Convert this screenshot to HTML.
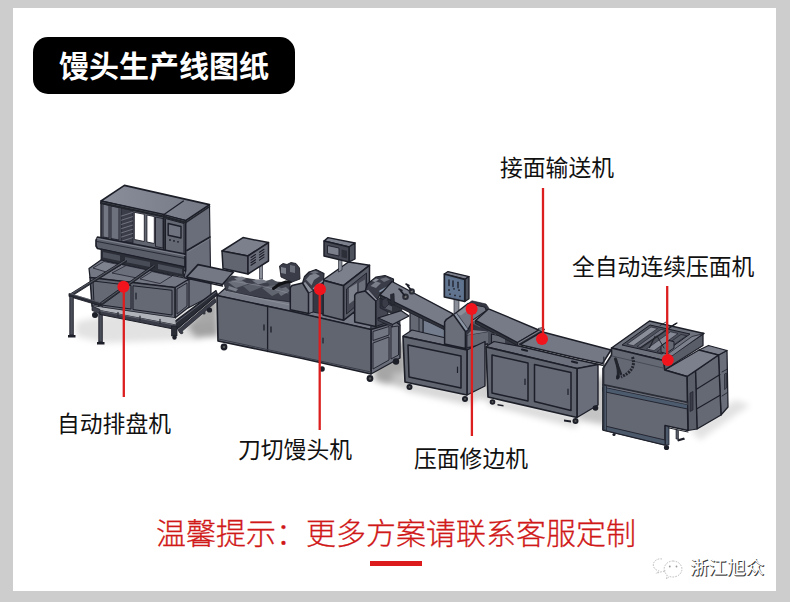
<!DOCTYPE html>
<html lang="zh-CN">
<head>
<meta charset="utf-8">
<title>馒头生产线图纸</title>
<style>
html,body{margin:0;padding:0;}
body{width:790px;height:602px;background:#cdcdcd;position:relative;overflow:hidden;font-family:"Liberation Sans","Noto Sans CJK SC",sans-serif;}
#card{position:absolute;left:13px;top:8px;width:763px;height:583px;background:#fff;}
#title{position:absolute;left:33px;top:37px;width:262px;height:57px;background:#000;border-radius:15px;color:#fff;font-weight:700;font-size:30px;line-height:60px;text-align:center;letter-spacing:0;}
.lbl{position:absolute;color:#111;font-size:22.8px;line-height:30px;white-space:nowrap;font-weight:400;}
#tip{position:absolute;left:156px;top:512px;width:480px;text-align:center;color:#d01818;font-weight:300;-webkit-text-stroke:0.3px #d01818;font-size:30px;line-height:44px;white-space:nowrap;}
#bar{position:absolute;left:370px;top:561px;width:52px;height:5px;background:#dc1c1c;}
#wm{position:absolute;left:690px;top:554.5px;font-size:18.6px;line-height:26px;color:#fff;white-space:nowrap;text-shadow:1px 1px 0.5px #3c3c3c,0.5px 0.5px 0 #666;}
svg{position:absolute;left:0;top:0;}
</style>
</head>
<body>
<div id="card"></div>
<div id="title">馒头生产线图纸</div>
<svg id="draw" width="790" height="602" viewBox="0 0 790 602">
<defs><filter id="bl" x="-20%" y="-20%" width="140%" height="140%"><feGaussianBlur stdDeviation="3"/></filter><linearGradient id="gT" x1="0" y1="0" x2="1" y2="0"><stop offset="0" stop-color="#8a8e9a"/><stop offset="1" stop-color="#757986"/></linearGradient></defs>
<g filter="url(#bl)" fill="#c9c9c9">
<polygon points="76,322 150,306 200,306 200,340 180,340 104,343 76,336" fill="#e2e2e2"/>
<polygon points="186,326 217,298 219,336 196,338" fill="#a2a2a2"/>
<polygon points="200,300 218,296 218,320 196,325" fill="#a8a8a8"/>
<polygon points="374,352 406,340 406,383 385,384 374,380" fill="#a6a6a6"/>
<polygon points="468,360 492,350 492,400 468,398" fill="#c8c8c8"/>
<polygon points="578,385 606,375 606,425 578,420" fill="#c4c4c4"/>
<polygon points="690,430 735,400 750,405 700,440" fill="#e2e2e2"/>
<polygon points="405,380 467,393 485,385 487,394 468,405 405,391" fill="#d6d6d6"/>
<polygon points="488,396 577,416 577,428 488,405" fill="#dadada"/>
<polygon points="392,374 406,372 406,388 394,386" fill="#c4c4c4"/>
</g>
<polygon points="188,278 211,283 211,296 188,308" fill="#6a6e7a" stroke="#1c1e28" stroke-width="1.12" stroke-linejoin="round"/>
<polygon points="175,287 189,279 189,307 175,318" fill="#6a6e7a" stroke="#1c1e28" stroke-width="1.12" stroke-linejoin="round"/>
<polygon points="174,322 216,290.5 217.5,294.5 176.5,329.5" fill="#2a2d36" stroke="#1c1e28" stroke-width="1.12" stroke-linejoin="round"/>
<polygon points="178,330 215,298.5 216,302 180,333" fill="#3a3d47" stroke="#1c1e28" stroke-width="0.75" stroke-linejoin="round"/>
<polyline points="175,323.5 216,292" fill="none" stroke="#7a7e89" stroke-width="0.6" stroke-linecap="round" stroke-linejoin="round"/>
<polygon points="185.6,220.6 209.5,204.6 210.5,270 188,280 184,277 185.6,271" fill="#6a6e7a" stroke="#1c1e28" stroke-width="1.12" stroke-linejoin="round"/>
<polyline points="187,250.5 210,237" fill="none" stroke="#1c1e28" stroke-width="1.6" stroke-linecap="round" stroke-linejoin="round"/>
<polyline points="188,251.8 210,238.6" fill="none" stroke="#8a8e99" stroke-width="0.5" stroke-linecap="round" stroke-linejoin="round"/>
<polygon points="124.4,185.4 209.5,204.6 185.6,220.6 101,201" fill="url(#gT)" stroke="#1c1e28" stroke-width="1.62" stroke-linejoin="round"/>
<polyline points="183.4,201 164,214.6" fill="none" stroke="#1c1e28" stroke-width="1.2" stroke-linecap="round" stroke-linejoin="round"/>
<polygon points="101,201 164,214.6 164,252 101,238" fill="#60656f" stroke="#1c1e28" stroke-width="1.5" stroke-linejoin="round"/>
<polygon points="103,204 109,205.3 109,238 103,237" fill="#737783" stroke="#1c1e28" stroke-width="0.88" stroke-linejoin="round"/>
<polygon points="111,206 119,207.6 119,240 111,238.5" fill="#6d717d" stroke="#1c1e28" stroke-width="0.88" stroke-linejoin="round"/>
<polygon points="121,208 133,210.6 133,243 121,240.5" fill="#3b3e48" stroke="#1c1e28" stroke-width="0.75" stroke-linejoin="round"/>
<polyline points="121.5,216 132.5,212.5" fill="none" stroke="#7d818c" stroke-width="0.8" stroke-linecap="round" stroke-linejoin="round"/>
<polyline points="121.5,220.2 132.5,216.7" fill="none" stroke="#7d818c" stroke-width="0.8" stroke-linecap="round" stroke-linejoin="round"/>
<polyline points="121.5,224.4 132.5,220.9" fill="none" stroke="#7d818c" stroke-width="0.8" stroke-linecap="round" stroke-linejoin="round"/>
<polyline points="121.5,228.6 132.5,225.1" fill="none" stroke="#7d818c" stroke-width="0.8" stroke-linecap="round" stroke-linejoin="round"/>
<polyline points="121.5,232.8 132.5,229.3" fill="none" stroke="#7d818c" stroke-width="0.8" stroke-linecap="round" stroke-linejoin="round"/>
<polyline points="121.5,237 132.5,233.5" fill="none" stroke="#7d818c" stroke-width="0.8" stroke-linecap="round" stroke-linejoin="round"/>
<polyline points="121.5,241.2 132.5,237.7" fill="none" stroke="#7d818c" stroke-width="0.8" stroke-linecap="round" stroke-linejoin="round"/>
<polygon points="134.3,212.3 144.3,214.3 144.3,241.5 134.3,239.5" fill="#ffffff" stroke="#1c1e28" stroke-width="0.88" stroke-linejoin="round"/>
<polygon points="146.9,215 154.3,216.5 154.3,243.5 146.9,242" fill="#ffffff" stroke="#1c1e28" stroke-width="0.88" stroke-linejoin="round"/>
<polygon points="155.5,217 163,218.6 163,248 155.5,246.5" fill="#656975" stroke="#1c1e28" stroke-width="0.88" stroke-linejoin="round"/>
<polygon points="164,214.6 185.6,220.6 185.6,271 164,266" fill="#60656f" stroke="#1c1e28" stroke-width="1.5" stroke-linejoin="round"/>
<polygon points="165.5,218.5 184,223.5 184,255 165.5,251" fill="#646873" stroke="#1c1e28" stroke-width="1" stroke-linejoin="round"/>
<polygon points="168.2,223.5 181,226.5 181,238 168.2,235.3" fill="#6f7380" stroke="#1c1e28" stroke-width="1.38" stroke-linejoin="round"/>
<circle cx="170" cy="240" r="0.9" fill="#1c1e28"/>
<circle cx="174" cy="240.92" r="0.9" fill="#1c1e28"/>
<circle cx="178" cy="241.84" r="0.9" fill="#1c1e28"/>
<polyline points="101,203 164,216.6 185.6,222.6" fill="none" stroke="#23252d" stroke-width="2.2" stroke-linecap="round" stroke-linejoin="round"/>
<polyline points="186,222.4 209.5,206.6" fill="none" stroke="#23252d" stroke-width="1.6" stroke-linecap="round" stroke-linejoin="round"/>
<polygon points="96,240 97.5,237 185,254 185,267 97.5,248.5 96,246" fill="#5a5e69" stroke="#1c1e28" stroke-width="1.62" stroke-linejoin="round"/>
<polyline points="97,238.6 185,255.6" fill="none" stroke="#8a8e99" stroke-width="0.8" stroke-linecap="round" stroke-linejoin="round"/>
<polyline points="97,241.5 185,258.5" fill="none" stroke="#1c1e28" stroke-width="0.8" stroke-linecap="round" stroke-linejoin="round"/>
<polygon points="101,249 184,267 184,277 150,271 101,260" fill="#2b2e37" stroke="#1c1e28" stroke-width="0.75" stroke-linejoin="round"/>
<polygon points="103,252 120,255.5 120,261 103,257.5" fill="#4c505b"/>
<polygon points="125,257 150,262 150,267 125,262" fill="#484c57"/>
<polygon points="158,264 182,269 182,274 158,269" fill="#4c505b"/>
<polygon points="89,268.5 101,260 175,276 189,279 175,287.5 90,277.5" fill="#737783" stroke="#1c1e28" stroke-width="1.25" stroke-linejoin="round"/>
<polygon points="93,268 104,261.5 121,265 108,272.5" fill="#7e828e" stroke="#1c1e28" stroke-width="0.75" stroke-linejoin="round"/>
<polygon points="112,273 126,265.5 150,270.5 137,278" fill="#6b6f7b" stroke="#1c1e28" stroke-width="0.75" stroke-linejoin="round"/>
<polygon points="140,279 152,271.5 172,276 160,283.5" fill="#767a86" stroke="#1c1e28" stroke-width="0.75" stroke-linejoin="round"/>
<polygon points="90,277.5 175,287.5 175,318 92,306" fill="#60656f" stroke="#1c1e28" stroke-width="1.5" stroke-linejoin="round"/>
<polygon points="93,281 131,285.5 131,309 94,304" fill="#646974" stroke="#1c1e28" stroke-width="1" stroke-linejoin="round"/>
<polygon points="133,285.8 172,290.3 172,315 133,309.5" fill="#646974" stroke="#1c1e28" stroke-width="1" stroke-linejoin="round"/>
<polyline points="136,293 136,299" fill="none" stroke="#1c1e28" stroke-width="1.2" stroke-linecap="round" stroke-linejoin="round"/>
<polygon points="177,289 187,283 187,306 177,314" fill="#707480" stroke="#1c1e28" stroke-width="0.88" stroke-linejoin="round"/>
<polygon points="124,260.3 127,261 72.5,295.6 69.5,294.4" fill="#2a2d36" stroke="#1c1e28" stroke-width="0.88" stroke-linejoin="round"/>
<polygon points="152,265.8 155,266.5 102.5,304.6 99.5,303.4" fill="#2a2d36" stroke="#1c1e28" stroke-width="0.88" stroke-linejoin="round"/>
<polyline points="126,260 71,294.5" fill="none" stroke="#6f737e" stroke-width="0.6" stroke-linecap="round" stroke-linejoin="round"/>
<polyline points="154,265.6 101,303.5" fill="none" stroke="#6f737e" stroke-width="0.6" stroke-linecap="round" stroke-linejoin="round"/>
<polygon points="69,293.5 101,303 101,306 69,296.5" fill="#2a2d36" stroke="#1c1e28" stroke-width="0.88" stroke-linejoin="round"/>
<polyline points="70,293.6 100,302.6" fill="none" stroke="#7a7e89" stroke-width="0.6" stroke-linecap="round" stroke-linejoin="round"/>
<polygon points="69.8,296 73.3,297 73.3,335 69.8,335" fill="#4a4e58" stroke="#1c1e28" stroke-width="0.88" stroke-linejoin="round"/>
<polygon points="98.8,305 102.3,306 102.3,342 98.8,342" fill="#4a4e58" stroke="#1c1e28" stroke-width="0.88" stroke-linejoin="round"/>
<polygon points="68,335 75.5,335 75.5,337.5 68,337.5" fill="#1c1e28"/>
<polygon points="97,342 104.5,342 104.5,344.5 97,344.5" fill="#1c1e28"/>
<polygon points="92,306 175,318 176,325.5 100,311" fill="#b0b3b9"/>
<polygon points="92,306 100,309.5 100,313.5 92,310.5" fill="#3f424c" stroke="#1c1e28" stroke-width="0.75" stroke-linejoin="round"/>
<polygon points="100,310.5 176,325 176,329.5 100,314.5" fill="#3a3d47" stroke="#1c1e28" stroke-width="1" stroke-linejoin="round"/>
<polyline points="100,310.8 176,325.3" fill="none" stroke="#8a8e99" stroke-width="0.6" stroke-linecap="round" stroke-linejoin="round"/>
<polyline points="118,312.47 118,316.47" fill="none" stroke="#2a2d36" stroke-width="1.2" stroke-linecap="round" stroke-linejoin="round"/>
<polyline points="140,316.1 140,320.1" fill="none" stroke="#2a2d36" stroke-width="1.2" stroke-linecap="round" stroke-linejoin="round"/>
<polyline points="160,319.4 160,323.4" fill="none" stroke="#2a2d36" stroke-width="1.2" stroke-linecap="round" stroke-linejoin="round"/>
<polygon points="171.5,326 177,326 177,336 171.5,336" fill="#2a2d36" stroke="#1c1e28" stroke-width="0.75" stroke-linejoin="round"/>
<circle cx="174.5" cy="337.5" r="2.2" fill="#1c1e28"/>
<circle cx="181.5" cy="332.5" r="1.8" fill="#3a3d47"/>
<circle cx="95" cy="315" r="3" fill="#1c1e28"/>
<circle cx="209.5" cy="310" r="2.6" fill="#1c1e28"/>
<circle cx="204" cy="313" r="1.6" fill="#33363f"/>
<polygon points="198,264.6 233.5,272 222.5,284.5 186.5,277" fill="#747884" stroke="#1c1e28" stroke-width="1.75" stroke-linejoin="round"/>
<polyline points="187,278.4 222.5,286" fill="none" stroke="#1c1e28" stroke-width="1.4" stroke-linecap="round" stroke-linejoin="round"/>
<polygon points="259.5,262 262.5,262 262.5,279 259.5,279" fill="#8a8e99" stroke="#1c1e28" stroke-width="0.62" stroke-linejoin="round"/>
<polygon points="222,251 243,237.6 268.5,242.6 248,256" fill="#7c808d" stroke="#1c1e28" stroke-width="1.5" stroke-linejoin="round"/>
<polygon points="222,251 248,256 248,274 223,268.5" fill="#60656f" stroke="#1c1e28" stroke-width="1.5" stroke-linejoin="round"/>
<polygon points="248,256 268.5,242.6 268.5,261 248,274" fill="#6a6e7a" stroke="#1c1e28" stroke-width="1.5" stroke-linejoin="round"/>
<polyline points="251,257.5 255.5,254.5" fill="none" stroke="#1c1e28" stroke-width="1.1" stroke-linecap="round" stroke-linejoin="round"/>
<polyline points="259.5,252.3 264,249.3" fill="none" stroke="#1c1e28" stroke-width="1.1" stroke-linecap="round" stroke-linejoin="round"/>
<polyline points="251,260.1 255.5,257.1" fill="none" stroke="#1c1e28" stroke-width="1.1" stroke-linecap="round" stroke-linejoin="round"/>
<polyline points="259.5,254.9 264,251.9" fill="none" stroke="#1c1e28" stroke-width="1.1" stroke-linecap="round" stroke-linejoin="round"/>
<polyline points="251,262.7 255.5,259.7" fill="none" stroke="#1c1e28" stroke-width="1.1" stroke-linecap="round" stroke-linejoin="round"/>
<polyline points="259.5,257.5 264,254.5" fill="none" stroke="#1c1e28" stroke-width="1.1" stroke-linecap="round" stroke-linejoin="round"/>
<polyline points="251,265.3 255.5,262.3" fill="none" stroke="#1c1e28" stroke-width="1.1" stroke-linecap="round" stroke-linejoin="round"/>
<polyline points="259.5,260.1 264,257.1" fill="none" stroke="#1c1e28" stroke-width="1.1" stroke-linecap="round" stroke-linejoin="round"/>
<polygon points="217,295.5 229,285 300,300 372,318 371,329.5 290,311" fill="#777b87" stroke="#1c1e28" stroke-width="1.12" stroke-linejoin="round"/>
<polygon points="224,283 232,276 262,281 290,283 291,302 262,298 226,291" fill="#3d404a" stroke="#1c1e28" stroke-width="0.75" stroke-linejoin="round"/>
<polygon points="252,280.5 262,279 268,282 258,284.5" fill="#767a86"/>
<polygon points="276,290 286,287 290,291 281,296" fill="#6b6f7a"/>
<polygon points="229,286 238,289 236,291.5 228,289" fill="#7a7e89"/>
<polygon points="228,282 240,279 248,284 236,288" fill="#6b6f7a"/>
<polygon points="243,286 256,283 262,287 250,292" fill="#5a5e69"/>
<polygon points="262,288 274,284 284,290 272,296" fill="#61656f"/>
<polygon points="234,278 242,276.5 246,279 238,281" fill="#7a7e89"/>
<polygon points="266,281 272,279 279,283 271,286" fill="#50545e"/>
<polyline points="225,291 290,305" fill="none" stroke="#8a8e99" stroke-width="0.9" stroke-linecap="round" stroke-linejoin="round"/>
<polyline points="232,281 262,286 288,293" fill="none" stroke="#8d919c" stroke-width="0.6" stroke-linecap="round" stroke-linejoin="round"/>
<polyline points="273.5,288.5 279,284.5 286,282 291,281.5" fill="none" stroke="#111216" stroke-width="3" stroke-linecap="round" stroke-linejoin="round"/>
<polygon points="279.5,266 283,263.5 287,264.5 291,262.5 296,263.5 299.5,268 300,279 292,282 281,277" fill="#3a3d47" stroke="#1c1e28" stroke-width="0.88" stroke-linejoin="round"/>
<polygon points="281,267 286,268 286,274 281,273" fill="#7c808b"/>
<polygon points="290,265 295,266 295,273 290,272" fill="#6b6f7a"/>
<polygon points="323,280 348.5,262 369.5,265.3 343.5,285.6" fill="#7c808d" stroke="#1c1e28" stroke-width="1.5" stroke-linejoin="round"/>
<polygon points="343.5,285.6 369.5,265.3 369.5,300 343.5,320.3" fill="#5a5e69" stroke="#1c1e28" stroke-width="1.5" stroke-linejoin="round"/>
<polygon points="346.5,289 366.5,273 366.5,297 346.5,314" fill="#454852" stroke="#1c1e28" stroke-width="0.88" stroke-linejoin="round"/>
<polygon points="349,288 357,283 357,298 349,304" fill="#7d818c"/>
<polygon points="359,283 365,279.5 365,293 359,297" fill="#6c707b"/>
<polygon points="323,280.3 343.5,285.8 343.5,320.3 323,315" fill="#656974" stroke="#1c1e28" stroke-width="1.5" stroke-linejoin="round"/>
<polygon points="338.5,258 342,258 342,270 338.5,272" fill="#8a8e99" stroke="#1c1e28" stroke-width="0.62" stroke-linejoin="round"/>
<polygon points="324,241 328,237.6 355,243 349,247" fill="#7c808d" stroke="#1c1e28" stroke-width="1.38" stroke-linejoin="round"/>
<polygon points="349,247 355,243 355,259 349,262" fill="#4d515b" stroke="#1c1e28" stroke-width="1.38" stroke-linejoin="round"/>
<polygon points="324,241 349,247 349,262 324,256" fill="#454852" stroke="#1c1e28" stroke-width="1.5" stroke-linejoin="round"/>
<polygon points="327.5,245.5 339,248 339,256 327.5,253.5" fill="#7b7f8b" stroke="#1c1e28" stroke-width="0.88" stroke-linejoin="round"/>
<polygon points="341.5,249.5 347,250.7 347,258.5 341.5,257.3" fill="#2c2f38"/>
<polygon points="302.5,283 304.5,276.5 309,272 316,269.5 324,273.5 323.5,282 316,288.5 313,291" fill="#3a3d47" stroke="#1c1e28" stroke-width="1.12" stroke-linejoin="round"/>
<polygon points="306,279.5 310,275 315.5,273.5 320,276 314,280 311.5,285.5" fill="#7f838e"/>
<polygon points="310,272.5 315,270.8 319,272.2 314,274.2" fill="#6b6f7a"/>
<polyline points="313.5,288.5 322.5,281" fill="none" stroke="#8490a2" stroke-width="1.4" stroke-linecap="round" stroke-linejoin="round"/>
<polygon points="308.5,293 313,290.7 323,283.5 323,314 313,312 308.5,313.5" fill="#353842" stroke="#1c1e28" stroke-width="1" stroke-linejoin="round"/>
<polygon points="308.5,293 313,290.7 313,312 308.5,313.5" fill="#767a85" stroke="#1c1e28" stroke-width="0.75" stroke-linejoin="round"/>
<polygon points="302.5,283 305.3,281.6 313,290.7 308.5,293" fill="#8a8e99" stroke="#1c1e28" stroke-width="0.62" stroke-linejoin="round"/>
<polygon points="290.3,287.5 292,285.5 302.5,283 308.5,293 308.5,313.5 290.3,309.7" fill="#676b76" stroke="#1c1e28" stroke-width="1.5" stroke-linejoin="round"/>
<polygon points="371,321 388,317 400,320 400,326 371,331" fill="#4a4e58" stroke="#1c1e28" stroke-width="0.75" stroke-linejoin="round"/>
<polygon points="365,291 368,283.5 376,277 385,275.5 393.5,279 393.5,285 381,292.5 377.4,299.5" fill="#3a3d47" stroke="#1c1e28" stroke-width="1.12" stroke-linejoin="round"/>
<polygon points="370.5,286 376,281.5 381,283 376,288" fill="#7a7e89"/>
<polygon points="380,279 386,277.3 390,279.5 384,282" fill="#6b6f7a"/>
<polygon points="372,281 376,278.5 379,279.5 375,282" fill="#8a8e99"/>
<polyline points="380,291.3 392.5,284.3" fill="none" stroke="#8796aa" stroke-width="1.6" stroke-linecap="round" stroke-linejoin="round"/>
<polygon points="375.7,301 380.6,297.5 388,292 388,322 375.7,326.5" fill="#454852" stroke="#1c1e28" stroke-width="1" stroke-linejoin="round"/>
<polygon points="365,290.9 368.2,289.3 377.4,299.5 375.7,301" fill="#8a8e99" stroke="#1c1e28" stroke-width="0.62" stroke-linejoin="round"/>
<polygon points="354.7,295.2 356.5,293 365,290.9 375.7,301 375.7,326.5 354.7,322" fill="#676b76" stroke="#1c1e28" stroke-width="1.5" stroke-linejoin="round"/>
<polygon points="371,329.5 396,322 400,325 400,358 371,374" fill="#6a6e7a" stroke="#1c1e28" stroke-width="1.38" stroke-linejoin="round"/>
<polygon points="373,331.5 389,326.5 389,335 373,340.5" fill="#727682" stroke="#1c1e28" stroke-width="0.88" stroke-linejoin="round"/>
<polygon points="373,343 389,337 389,360 373,369" fill="#727682" stroke="#1c1e28" stroke-width="0.88" stroke-linejoin="round"/>
<polygon points="391,327 398.5,326 398.5,355 391,359" fill="#6f737f" stroke="#1c1e28" stroke-width="0.88" stroke-linejoin="round"/>
<polygon points="217,295.5 290,311 371,329.5 371,374 300,358 218,341" fill="#60656f" stroke="#1c1e28" stroke-width="1.62" stroke-linejoin="round"/>
<polyline points="267.6,306.5 267.6,351.5" fill="none" stroke="#1c1e28" stroke-width="1.3" stroke-linecap="round" stroke-linejoin="round"/>
<polyline points="264,325 264,330" fill="none" stroke="#1c1e28" stroke-width="1.3" stroke-linecap="round" stroke-linejoin="round"/>
<polyline points="271,327 271,332" fill="none" stroke="#1c1e28" stroke-width="1.3" stroke-linecap="round" stroke-linejoin="round"/>
<polyline points="323,338 323,343" fill="none" stroke="#1c1e28" stroke-width="1.2" stroke-linecap="round" stroke-linejoin="round"/>
<polyline points="218.5,339 371,372" fill="none" stroke="#3a3d47" stroke-width="1" stroke-linecap="round" stroke-linejoin="round"/>
<circle cx="224" cy="347" r="3.4" fill="#1c1e28"/>
<circle cx="224" cy="347" r="1.3" fill="#555"/>
<circle cx="322" cy="369" r="2.8" fill="#1c1e28"/>
<circle cx="370" cy="378.5" r="3.4" fill="#1c1e28"/>
<circle cx="370" cy="378.5" r="1.3" fill="#555"/>
<circle cx="396" cy="361.5" r="3.2" fill="#1c1e28"/>
<polygon points="423,320 445,327 445,340 423,334" fill="#727c8c" stroke="#1c1e28" stroke-width="0.75" stroke-linejoin="round"/>
<polygon points="410,312 419,315.5 423,314 423,333 419,335 410,332" fill="#656974" stroke="#1c1e28" stroke-width="1.12" stroke-linejoin="round"/>
<polyline points="419,315.5 419,335" fill="none" stroke="#1c1e28" stroke-width="0.8" stroke-linecap="round" stroke-linejoin="round"/>
<polygon points="380,298 402,309 401,313 393,314.5 380,308" fill="#30333c" stroke="#1c1e28" stroke-width="0.62" stroke-linejoin="round"/>
<polygon points="384,303 392,306.5 392,311 384,308" fill="#5a5e69"/>
<polygon points="378,318 401,310.6 409,316 392.5,324.5" fill="#747884" stroke="#1c1e28" stroke-width="1.25" stroke-linejoin="round"/>
<polygon points="378,318 392.5,324.5 392.5,327 378,320.5" fill="#3a3d47" stroke="#1c1e28" stroke-width="0.62" stroke-linejoin="round"/>
<polygon points="380,295 444,326.5 444,329.5 380,298" fill="#2f323b" stroke="#1c1e28" stroke-width="0.88" stroke-linejoin="round"/>
<polygon points="392,281.5 453,313.8 444,326.5 380,294.8" fill="#777b88" stroke="#1c1e28" stroke-width="1.38" stroke-linejoin="round"/>
<polygon points="390.5,294.5 394,293.5 394.5,304.5 391,305.5" fill="#2a2d36" stroke="#1c1e28" stroke-width="0.62" stroke-linejoin="round"/>
<polygon points="382,300 387,297.5 389,304 385,308 382,306" fill="#3a3d47" stroke="#1c1e28" stroke-width="0.62" stroke-linejoin="round"/>
<polyline points="387,300 397,304.5" fill="none" stroke="#2a2d36" stroke-width="1.2" stroke-linecap="round" stroke-linejoin="round"/>
<circle cx="405.5" cy="296.8" r="3.3" fill="#2a2d36"/>
<circle cx="405.5" cy="296.8" r="1.2" fill="#777"/>
<circle cx="411.8" cy="291.4" r="3.1" fill="#2a2d36"/>
<circle cx="411.8" cy="291.4" r="1.1" fill="#777"/>
<polyline points="400.5,290.5 404.5,295.5" fill="none" stroke="#1c1e28" stroke-width="1.8" stroke-linecap="round" stroke-linejoin="round"/>
<polyline points="407.5,285.5 411,290" fill="none" stroke="#1c1e28" stroke-width="1.8" stroke-linecap="round" stroke-linejoin="round"/>
<polyline points="399,289 402,290.5" fill="none" stroke="#1c1e28" stroke-width="1.6" stroke-linecap="round" stroke-linejoin="round"/>
<polyline points="406,284 409,285.5" fill="none" stroke="#1c1e28" stroke-width="1.6" stroke-linecap="round" stroke-linejoin="round"/>
<polygon points="454,299 459,300 459,314 454,315" fill="#8a8e99" stroke="#1c1e28" stroke-width="0.62" stroke-linejoin="round"/>
<polygon points="444.3,274 448,271.6 469,276.6 464.8,279.4" fill="#7c808d" stroke="#1c1e28" stroke-width="1.25" stroke-linejoin="round"/>
<polygon points="464.8,279.4 469,276.6 469,298.8 464.8,301.5" fill="#4d515b" stroke="#1c1e28" stroke-width="1.25" stroke-linejoin="round"/>
<polygon points="444.3,274 464.8,279.4 464.8,301.5 444.3,297" fill="#5b6e88" stroke="#1c1e28" stroke-width="1.62" stroke-linejoin="round"/>
<polygon points="446,276.5 463,281 463,299 446,295" fill="#60748f"/>
<polyline points="449,280 449,285.5" fill="none" stroke="#1c1e28" stroke-width="1.3" stroke-linecap="round" stroke-linejoin="round"/>
<polyline points="453,281 453,286.5" fill="none" stroke="#1c1e28" stroke-width="1.3" stroke-linecap="round" stroke-linejoin="round"/>
<polyline points="458,282.25 458,287.75" fill="none" stroke="#1c1e28" stroke-width="1.3" stroke-linecap="round" stroke-linejoin="round"/>
<circle cx="449" cy="290" r="0.9" fill="#23252d"/>
<circle cx="454" cy="288.8" r="0.9" fill="#23252d"/>
<circle cx="459" cy="290.2" r="0.9" fill="#23252d"/>
<circle cx="450" cy="294.2" r="0.9" fill="#23252d"/>
<circle cx="455" cy="295.4" r="0.9" fill="#23252d"/>
<circle cx="460" cy="296.4" r="0.9" fill="#23252d"/>
<polygon points="403,336 412,330 446,338 488,332 488,343 467,350" fill="#727682" stroke="#1c1e28" stroke-width="1.12" stroke-linejoin="round"/>
<polygon points="465.4,331.5 470,322 490,325 491,344 465.4,348.5" fill="#353842" stroke="#1c1e28" stroke-width="1" stroke-linejoin="round"/>
<polygon points="467,335 488.5,331.5 490.5,333.5 490.5,343 467,347.5" fill="#656974" stroke="#1c1e28" stroke-width="0.75" stroke-linejoin="round"/>
<polygon points="467,335 472,330 488.5,331.5" fill="#7a7e89"/>
<polygon points="471,323 478,317.5 484,320 480,327.5" fill="#50545e"/>
<polygon points="488,328 494,331 494,346.5 488,344.5" fill="#4a4e58"/>
<polygon points="453.5,314.7 468,303.5 485,307 486.5,310.5 473,320 468,329.5 465.4,331.5" fill="#737783" stroke="#1c1e28" stroke-width="1.25" stroke-linejoin="round"/>
<polygon points="456,314 468.5,305 473,306.2 461,315.5" fill="#8a8e99"/>
<polygon points="468,303.5 472,300.8 486,304 488.5,307.5 486.5,310.5 485,307" fill="#353842" stroke="#1c1e28" stroke-width="0.62" stroke-linejoin="round"/>
<polygon points="453.5,314.7 456.5,313 468.2,329.3 465.4,331.5" fill="#8a94a3" stroke="#1c1e28" stroke-width="0.62" stroke-linejoin="round"/>
<polygon points="444.6,322 446.5,319.3 453.5,314.7 465.4,331.5 465.4,348.5 444.6,344" fill="#6a6e79" stroke="#1c1e28" stroke-width="1.5" stroke-linejoin="round"/>
<polygon points="467,350 485,341.5 485,386 467,395" fill="#6a6e7a" stroke="#1c1e28" stroke-width="1.38" stroke-linejoin="round"/>
<polygon points="403,336.5 467,350 467,395 405,382" fill="#60656f" stroke="#1c1e28" stroke-width="1.62" stroke-linejoin="round"/>
<polygon points="408,345 461,356 461,388 409,377" fill="#666a76" stroke="#1c1e28" stroke-width="1.5" stroke-linejoin="round"/>
<polyline points="457.5,367 457.5,372.5" fill="none" stroke="#1c1e28" stroke-width="1.2" stroke-linecap="round" stroke-linejoin="round"/>
<circle cx="409.5" cy="387" r="3" fill="#1c1e28"/>
<circle cx="409.5" cy="387" r="1.1" fill="#555"/>
<circle cx="465" cy="399" r="3" fill="#1c1e28"/>
<circle cx="465" cy="399" r="1.1" fill="#555"/>
<polygon points="491.5,334 505,337 507,336 507,345 505,347 491.5,344" fill="#656974" stroke="#1c1e28" stroke-width="1.12" stroke-linejoin="round"/>
<polygon points="505,338 518,343.5 521,347 505,346.5" fill="#3a3d47"/>
<polygon points="475.5,320.5 517.5,342.5 517.5,345.5 475.5,323.5" fill="#2f323b" stroke="#1c1e28" stroke-width="0.88" stroke-linejoin="round"/>
<polygon points="488.6,308.8 538.7,330 517.5,342.5 475.7,320.4" fill="#777b88" stroke="#1c1e28" stroke-width="1.38" stroke-linejoin="round"/>
<polygon points="517.5,342.5 538.7,330 541.8,331.8 520,344.7" fill="#3a3d47" stroke="#1c1e28" stroke-width="1" stroke-linejoin="round"/>
<polyline points="518.5,343.2 540,330.7" fill="none" stroke="#9a9ea8" stroke-width="0.7" stroke-linecap="round" stroke-linejoin="round"/>
<polygon points="538,328.5 542,327.5 545,329.5 541.8,331.8" fill="#8b8f9a" stroke="#1c1e28" stroke-width="0.62" stroke-linejoin="round"/>
<polygon points="541.8,331.8 611,350 602.5,363.5 577,358 520,344.7" fill="#747884" stroke="#1c1e28" stroke-width="1.5" stroke-linejoin="round"/>
<polyline points="520,346.2 577,359.8 602.5,365.2" fill="none" stroke="#1c1e28" stroke-width="1.4" stroke-linecap="round" stroke-linejoin="round"/>
<polygon points="486,346.5 494,341.5 520,346.5 577,360 598,364.5 577,368.5" fill="#6d717d" stroke="#1c1e28" stroke-width="1.12" stroke-linejoin="round"/>
<polyline points="522,349.5 527,350.7" fill="none" stroke="#1c1e28" stroke-width="2.2" stroke-linecap="round" stroke-linejoin="round"/>
<polyline points="572,361.5 577,362.7" fill="none" stroke="#1c1e28" stroke-width="2.2" stroke-linecap="round" stroke-linejoin="round"/>
<polygon points="577,368.5 598,364.5 598,405 577,417.5" fill="#6a6e7a" stroke="#1c1e28" stroke-width="1.38" stroke-linejoin="round"/>
<polygon points="486,347 577,368.5 577,417.5 488,397" fill="#60656f" stroke="#1c1e28" stroke-width="1.62" stroke-linejoin="round"/>
<polygon points="492,355 528,363 528,401 492,393" fill="#666a76" stroke="#1c1e28" stroke-width="1.5" stroke-linejoin="round"/>
<polygon points="534.5,364.5 571,372.5 571,410.5 534.5,401.5" fill="#666a76" stroke="#1c1e28" stroke-width="1.5" stroke-linejoin="round"/>
<polyline points="525,379 525,384.5" fill="none" stroke="#1c1e28" stroke-width="1.2" stroke-linecap="round" stroke-linejoin="round"/>
<polyline points="568,389 568,394.5" fill="none" stroke="#1c1e28" stroke-width="1.2" stroke-linecap="round" stroke-linejoin="round"/>
<circle cx="492.5" cy="402" r="2.8" fill="#1c1e28"/>
<circle cx="492.5" cy="402" r="1" fill="#555"/>
<polygon points="497.5,404 503.5,405 503.5,406.6 497.5,405.6" fill="#1c1e28"/>
<circle cx="575.5" cy="421" r="3" fill="#1c1e28"/>
<circle cx="575.5" cy="421" r="1.1" fill="#555"/>
<circle cx="595.5" cy="408" r="2.8" fill="#1c1e28"/>
<polygon points="564,419.5 571,420.5 571,422.5 564,421.5" fill="#1c1e28"/>
<polygon points="718.5,355 727,350.5 728,407 721,415" fill="#6a6e7a" stroke="#1c1e28" stroke-width="1.25" stroke-linejoin="round"/>
<polyline points="722,372 727.5,369" fill="none" stroke="#1c1e28" stroke-width="0.8" stroke-linecap="round" stroke-linejoin="round"/>
<polyline points="722,396 727.5,392.5" fill="none" stroke="#1c1e28" stroke-width="0.8" stroke-linecap="round" stroke-linejoin="round"/>
<polygon points="724.5,374 726.5,373 726.5,388 724.5,389.5" fill="#4d515b" stroke="#1c1e28" stroke-width="0.62" stroke-linejoin="round"/>
<polygon points="699,350 708.5,345.5 727,350.5 718.5,355" fill="#7c808d" stroke="#1c1e28" stroke-width="1.25" stroke-linejoin="round"/>
<polygon points="695.5,371 718.5,355 721,415 697,429" fill="#656974" stroke="#1c1e28" stroke-width="1.38" stroke-linejoin="round"/>
<polyline points="696,389.5 720,374.5" fill="none" stroke="#1c1e28" stroke-width="1.1" stroke-linecap="round" stroke-linejoin="round"/>
<polyline points="696.5,409 720.5,395" fill="none" stroke="#1c1e28" stroke-width="1.1" stroke-linecap="round" stroke-linejoin="round"/>
<polygon points="687,376.5 695.5,371 697,429 688,430.5" fill="#5a5e69" stroke="#1c1e28" stroke-width="1.25" stroke-linejoin="round"/>
<polygon points="690,393 693,391.5 693,410 690,411.5" fill="#3a3d47" stroke="#1c1e28" stroke-width="0.62" stroke-linejoin="round"/>
<polygon points="664.7,370 699,350 718.5,355 687,376.5" fill="#7c808d" stroke="#1c1e28" stroke-width="1.38" stroke-linejoin="round"/>
<polygon points="664,360.5 703,333 703,345.5 674.5,363.5 664.7,370" fill="#595d67" stroke="#1c1e28" stroke-width="1.25" stroke-linejoin="round"/>
<polygon points="611.5,348 649.5,321 704,333.5 663.5,360.5" fill="#6e727d" stroke="#1c1e28" stroke-width="1.5" stroke-linejoin="round"/>
<polygon points="622,345 650,325 690,334 662,354" fill="#4e525c" stroke="#1c1e28" stroke-width="1" stroke-linejoin="round"/>
<polygon points="627,344.2 651,327 657.5,328.5 633.5,345.7" fill="#8a8e99" stroke="#1c1e28" stroke-width="0.62" stroke-linejoin="round"/>
<polygon points="637,346.6 661,329.4 666,330.6 642,347.8" fill="#6f737f" stroke="#1c1e28" stroke-width="0.62" stroke-linejoin="round"/>
<polygon points="646.5,349 670.5,331.8 678,333.5 654,350.7" fill="#858995" stroke="#1c1e28" stroke-width="0.62" stroke-linejoin="round"/>
<polygon points="657,351.6 681,334.4 686.5,335.7 662.5,352.9" fill="#585c67" stroke="#1c1e28" stroke-width="0.62" stroke-linejoin="round"/>
<polygon points="667,354.5 692,336.5 703,333.8 672,356" fill="#7c808c" stroke="#1c1e28" stroke-width="0.75" stroke-linejoin="round"/>
<polygon points="661,346 669,340.5 674,341.7 674,348 666,353.5 661,352" fill="#656974" stroke="#1c1e28" stroke-width="1" stroke-linejoin="round"/>
<polyline points="640,348 676,323.5" fill="none" stroke="#23252d" stroke-width="1.5" stroke-linecap="round" stroke-linejoin="round"/>
<polyline points="655,336.5 649.5,347.5" fill="none" stroke="#23252d" stroke-width="1.2" stroke-linecap="round" stroke-linejoin="round"/>
<polyline points="657,336 664,348" fill="none" stroke="#23252d" stroke-width="1" stroke-linecap="round" stroke-linejoin="round"/>
<polyline points="670,327 677,323" fill="none" stroke="#1c1e28" stroke-width="1.2" stroke-linecap="round" stroke-linejoin="round"/>
<polyline points="660,325.5 666,322" fill="none" stroke="#1c1e28" stroke-width="0.8" stroke-linecap="round" stroke-linejoin="round"/>
<polyline points="612.5,349.5 663.5,362" fill="none" stroke="#2a2d36" stroke-width="1.6" stroke-linecap="round" stroke-linejoin="round"/>
<polygon points="611.5,348 663.5,360.5 664.7,370 687,376.5 688,430.5 665,425.5 665,445 603,430 603,368.5 611.5,355" fill="#646873" stroke="#1c1e28" stroke-width="1.62" stroke-linejoin="round"/>
<polygon points="603,387 687.5,404.5 687.5,409 603,391.5" fill="#4c5b6e" stroke="#1c1e28" stroke-width="0.88" stroke-linejoin="round"/>
<polyline points="603,384.6 687.5,402.4" fill="none" stroke="#2a2d36" stroke-width="1.8" stroke-linecap="round" stroke-linejoin="round"/>
<polyline points="603,386.2 687.5,404" fill="none" stroke="#7b7f8a" stroke-width="0.6" stroke-linecap="round" stroke-linejoin="round"/>
<polygon points="603,425.5 665,440 665,445 603,430" fill="#4b596b" stroke="#1c1e28" stroke-width="0.88" stroke-linejoin="round"/>
<polygon points="603,385 606.5,385.8 606.5,430.5 603,429.7" fill="#4b596b" stroke="#1c1e28" stroke-width="0.62" stroke-linejoin="round"/>
<polyline points="603.8,357 603.8,430" fill="none" stroke="#2a2d36" stroke-width="1.2" stroke-linecap="round" stroke-linejoin="round"/>
<polyline points="612,356 663,368" fill="none" stroke="#3a3d47" stroke-width="0.7" stroke-linecap="round" stroke-linejoin="round"/>
<path d="M615.5,359 Q620,372 617.5,378" fill="none" stroke="#23252d" stroke-width="3" stroke-linecap="round"/>
<path d="M632.5,357 Q637,370 621,377" fill="none" stroke="#23252d" stroke-width="3" stroke-dasharray="2 1.1"/>
<polyline points="616,361 621,374" fill="none" stroke="#23252d" stroke-width="2.2" stroke-linecap="round" stroke-linejoin="round"/>
<circle cx="618" cy="377" r="1.8" fill="#1c1e28"/>
<polygon points="665.5,426 669,427 669,445 665.5,445" fill="#4b596b" stroke="#1c1e28" stroke-width="0.75" stroke-linejoin="round"/>
<polyline points="669,428 688,432" fill="none" stroke="#1c1e28" stroke-width="1" stroke-linecap="round" stroke-linejoin="round"/>
<polygon points="676,430 678.5,430.5 678.5,439 676,439" fill="#555964" stroke="#1c1e28" stroke-width="0.62" stroke-linejoin="round"/>
<polygon points="677,439.5 684,437.5 685,439.5 678,441.5" fill="#1c1e28"/>
<circle cx="666.5" cy="447.5" r="2.6" fill="#1c1e28"/>
<circle cx="614" cy="434.5" r="1.6" fill="#1c1e28"/>
<!--LINES-->
<g stroke="#dc1e1e" stroke-width="2.3">
<line x1="123.8" y1="287" x2="123.8" y2="397"/>
<line x1="319.7" y1="290" x2="319.7" y2="430"/>
<line x1="471.9" y1="309" x2="471.9" y2="436"/>
<line x1="543" y1="188" x2="543" y2="339"/>
<line x1="667.2" y1="286" x2="667.2" y2="358"/>
</g>
<g fill="#f2141c">
<circle cx="123.4" cy="286.8" r="6"/>
<circle cx="320" cy="289.2" r="6"/>
<circle cx="471.6" cy="309" r="6"/>
<circle cx="542" cy="339" r="6"/>
<circle cx="667.8" cy="360" r="6"/>
</g>
<g fill="none" stroke="#9a9a9a" stroke-width="0.9" stroke-dasharray="1.6 1.2" opacity="0.75">
<path d="M662,559 a7,6 0 1 0 -3.2,11.8 l-2.4,2.6 l4.6,-1.6 a7.5,6.3 0 0 0 5,-1.5"/>
<path d="M673,561 a9,8 0 1 1 -3.5,15.4 l-3,2.4 l0.6,-3.9 a9,8 0 0 1 5.9,-13.9z"/>
</g>
<circle cx="669.8" cy="566.5" r="0.9" fill="#999"/><circle cx="676.5" cy="566.5" r="0.9" fill="#999"/>
</svg>
<div class="lbl" style="left:500px;top:153px;">接面输送机</div>
<div class="lbl" style="left:572px;top:252px;">全自动连续压面机</div>
<div class="lbl" style="left:57px;top:409px;">自动排盘机</div>
<div class="lbl" style="left:238px;top:435px;">刀切馒头机</div>
<div class="lbl" style="left:414px;top:444px;">压面修边机</div>
<div id="tip">温馨提示：更多方案请联系客服定制</div>
<div id="bar"></div>
<div id="wm">浙江旭众</div>
</body>
</html>
